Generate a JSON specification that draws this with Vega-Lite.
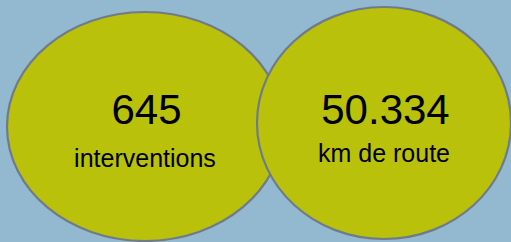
{
  "$schema": "https://vega.github.io/schema/vega-lite/v6.json",
  "width": 511,
  "height": 242,
  "autosize": {"type": "none"},
  "padding": 0,
  "background": "#92b9d0",
  "config": {"view": {"stroke": null}, "axis": {"disable": true}},
  "data": {
    "values": [
      {"ordre": 1, "valeur": "645", "libelle": "interventions"},
      {"ordre": 2, "valeur": "50.334", "libelle": "km de route"}
    ]
  },
  "encoding": {
    "x": {"field": "ordre", "type": "quantitative", "scale": {"domain": [0.3933, 2.5314], "nice": false, "zero": false}, "axis": null},
    "y": {"datum": 0, "type": "quantitative", "scale": {"domain": [-1, 1.0596], "nice": false, "zero": false}, "axis": null}
  },
  "layer": [
    {
      "mark": {"type": "point", "filled": true, "fill": "#b9c10b", "stroke": "#6f7b8b", "strokeWidth": 2.2, "opacity": 1, "fillOpacity": 1, "size": 52900},
      "encoding": {
        "shape": {
          "field": "libelle", "type": "nominal", "legend": null,
          "scale": {
            "domain": ["interventions", "km de route"],
            "range": [
              "M 1.2 0.0174 C 1.2 0.5673 0.6628 1.0131 0 1.0131 C -0.6628 1.0131 -1.2 0.5673 -1.2 0.0174 C -1.2 -0.5325 -0.6628 -0.9783 0 -0.9783 C 0.6628 -0.9783 1.2 -0.5325 1.2 0.0174 Z",
              "M 1.1043 -0.013 C 1.1043 0.5441 0.6099 0.9957 0 0.9957 C -0.6099 0.9957 -1.1043 0.5441 -1.1043 -0.013 C -1.1043 -0.5701 -0.6099 -1.0217 0 -1.0217 C 0.6099 -1.0217 1.1043 -0.5701 1.1043 -0.013 Z"
            ]
          }
        }
      }
    },
    {
      "mark": {"type": "text", "font": "Liberation Sans", "fontSize": 42, "color": "#000000", "baseline": "alphabetic", "align": "center", "dy": -1, "dx": 1.5},
      "encoding": {"text": {"field": "valeur"}}
    },
    {
      "transform": [{"filter": "datum.ordre == 1"}],
      "mark": {"type": "text", "font": "Liberation Sans", "fontSize": 25, "color": "#000000", "baseline": "alphabetic", "align": "center", "dy": 42.5},
      "encoding": {"text": {"field": "libelle"}}
    },
    {
      "transform": [{"filter": "datum.ordre == 2"}],
      "mark": {"type": "text", "font": "Liberation Sans", "fontSize": 25, "color": "#000000", "baseline": "alphabetic", "align": "center", "dy": 37.5},
      "encoding": {"text": {"field": "libelle"}}
    }
  ]
}
